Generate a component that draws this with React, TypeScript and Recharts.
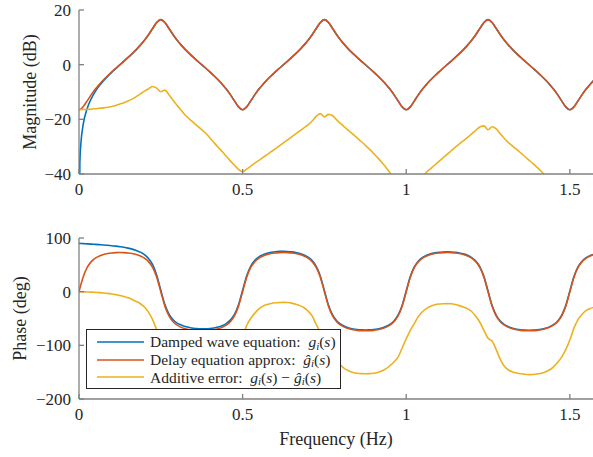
import { Legend, Line, LineChart, XAxis, YAxis } from 'recharts';

const FONT = '"Liberation Serif", "Times New Roman", serif';
const AXIS_COLOR = '#808080';
const TEXT_COLOR = '#262626';
const COLORS = { wave: '#0072BD', delay: '#D95319', err: '#EDB120' };

const X_MAX = Math.PI / 2;
const xTicks = [0, 0.5, 1, 1.5];
const magTicks = [-40, -20, 0, 20];
const phaseTicks = [-200, -100, 0, 100];

// frequency grid (Hz)
const freq = [
  0, 0.0025, 0.00625,
  0.0125, 0.025, 0.0375, 0.05, 0.0625, 0.075, 0.0875, 0.1,
  0.1125, 0.125, 0.1375, 0.15, 0.1625, 0.175, 0.1875, 0.2,
  0.2125, 0.225, 0.2375, 0.25, 0.2625, 0.275, 0.2875, 0.3,
  0.3125, 0.325, 0.3375, 0.35, 0.3625, 0.375, 0.3875, 0.4,
  0.4125, 0.425, 0.4375, 0.45, 0.4625, 0.475, 0.4875, 0.5,
  0.5125, 0.525, 0.5375, 0.55, 0.5625, 0.575, 0.5875, 0.6,
  0.6125, 0.625, 0.6375, 0.65, 0.6625, 0.675, 0.6875, 0.7,
  0.7125, 0.725, 0.7375, 0.75, 0.7625, 0.775, 0.7875, 0.8,
  0.8125, 0.825, 0.8375, 0.85, 0.8625, 0.875, 0.8875, 0.9,
  0.9125, 0.925, 0.9375, 0.95, 0.9625, 0.975, 0.9875, 1.0,
  1.0125, 1.025, 1.0375, 1.05, 1.0625, 1.075, 1.0875, 1.1,
  1.1125, 1.125, 1.1375, 1.15, 1.1625, 1.175, 1.1875, 1.2,
  1.2125, 1.225, 1.2375, 1.25, 1.2625, 1.275, 1.2875, 1.3,
  1.3125, 1.325, 1.3375, 1.35, 1.3625, 1.375, 1.3875, 1.4,
  1.4125, 1.425, 1.4375, 1.45, 1.4625, 1.475, 1.4875, 1.5,
  1.5125, 1.525, 1.5375, 1.55, 1.5625, 1.575,
];

// magnitude (dB)
const magWave = [
  -120, -36.08, -28.12,
  -22.08, -16.01, -12.4, -9.77, -7.67, -5.87, -4.27, -2.8,
  -1.42, -0.07, 1.28, 2.65, 4.04, 5.52, 7.14, 8.94,
  10.97, 13.23, 15.43, 16.48, 15.43, 13.23, 10.97, 8.94,
  7.14, 5.52, 4.04, 2.64, 1.31, 0, -1.31, -2.64,
  -4.04, -5.52, -7.14, -8.94, -10.97, -13.23, -15.43, -16.48,
  -15.43, -13.23, -10.97, -8.94, -7.14, -5.52, -4.04, -2.64,
  -1.31, 0, 1.31, 2.64, 4.04, 5.52, 7.14, 8.94,
  10.97, 13.23, 15.43, 16.48, 15.43, 13.23, 10.97, 8.94,
  7.14, 5.52, 4.04, 2.64, 1.31, 0, -1.31, -2.64,
  -4.04, -5.52, -7.14, -8.94, -10.97, -13.23, -15.43, -16.48,
  -15.43, -13.23, -10.97, -8.94, -7.14, -5.52, -4.04, -2.64,
  -1.31, 0, 1.31, 2.64, 4.04, 5.52, 7.14, 8.94,
  10.97, 13.23, 15.43, 16.48, 15.43, 13.23, 10.97, 8.94,
  7.14, 5.52, 4.04, 2.64, 1.31, 0, -1.31, -2.64,
  -4.04, -5.52, -7.14, -8.94, -10.97, -13.23, -15.43, -16.48,
  -15.43, -13.23, -10.97, -8.94, -7.14, -5.52,
];

const magDelay = [
  -16.48, -16.43, -16.19,
  -15.43, -13.23, -10.97, -8.94, -7.14, -5.52, -4.04, -2.64,
  -1.31, 0, 1.31, 2.64, 4.04, 5.52, 7.14, 8.94,
  10.97, 13.23, 15.43, 16.48, 15.43, 13.23, 10.97, 8.94,
  7.14, 5.52, 4.04, 2.64, 1.31, 0, -1.31, -2.64,
  -4.04, -5.52, -7.14, -8.94, -10.97, -13.23, -15.43, -16.48,
  -15.43, -13.23, -10.97, -8.94, -7.14, -5.52, -4.04, -2.64,
  -1.31, 0, 1.31, 2.64, 4.04, 5.52, 7.14, 8.94,
  10.97, 13.23, 15.43, 16.48, 15.43, 13.23, 10.97, 8.94,
  7.14, 5.52, 4.04, 2.64, 1.31, 0, -1.31, -2.64,
  -4.04, -5.52, -7.14, -8.94, -10.97, -13.23, -15.43, -16.48,
  -15.43, -13.23, -10.97, -8.94, -7.14, -5.52, -4.04, -2.64,
  -1.31, 0, 1.31, 2.64, 4.04, 5.52, 7.14, 8.94,
  10.97, 13.23, 15.43, 16.48, 15.43, 13.23, 10.97, 8.94,
  7.14, 5.52, 4.04, 2.64, 1.31, 0, -1.31, -2.64,
  -4.04, -5.52, -7.14, -8.94, -10.97, -13.23, -15.43, -16.48,
  -15.43, -13.23, -10.97, -8.94, -7.14, -5.52,
];

const magErr = [
  -16.45, -16.45, -16.43,
  -16.4, -16.35, -16.25, -16.1, -15.95, -15.8, -15.6, -15.3,
  -14.9, -14.4, -13.9, -13.3, -12.6, -11.7, -10.7, -9.7,
  -8.8, -8.0, -8.6, -9.9, -9.3, -11.0, -13.0, -14.9,
  -16.7, -18.5, -19.9, -21.2, -22.5, -23.8, -25.1, -26.8,
  -28.5, -30.2, -31.8, -33.5, -35.2, -36.8, -38.3, -39.2,
  -38.2, -37.1, -36.0, -35.0, -33.9, -32.9, -31.8, -30.8,
  -29.7, -28.6, -27.5, -26.4, -25.3, -24.2, -23.1, -22.0,
  -20.6, -18.9, -17.9, -19.1, -18.2, -18.7, -20.2, -21.6,
  -22.9, -24.2, -25.5, -26.8, -28.1, -29.5, -30.9, -32.4,
  -34.0, -35.7, -37.5, -39.5, -41.6, -43.8, -46, -47,
  -46.5, -45, -43.3, -41.4, -39.3, -38.0, -36.7, -35.4,
  -34.1, -32.8, -31.5, -30.2, -29.0, -27.8, -26.6, -25.3,
  -24.0, -22.8, -22.4, -23.8, -22.7, -23.5, -25.3, -27.0,
  -28.5, -29.8, -31.0, -32.3, -33.6, -34.9, -36.2, -37.6,
  -39.0, -40.6, -42.3, -44, -45.5, -47, -48.5, -49.5,
  -48.5, -47, -45.5, -44, -43, -42,
];

// phase (deg)
const phaseWave = [
  90, 89.9, 89.8,
  89.55, 89.09, 88.62, 88.11, 87.58, 87.01, 86.35, 85.63,
  84.78, 83.76, 82.61, 81.15, 79.3, 76.89, 73.61, 68.91,
  61.78, 50.23, 30.81, 2.73, -24.08, -41.74, -52.23, -58.61,
  -62.1, -65.0, -66.9, -68.2, -68.9, -69.3, -69.2, -68.7,
  -67.7, -66.0, -63.4, -59.4, -53.0, -42.3, -24.2, 2.7,
  29.7, 47.8, 58.5, 64.9, 69.0, 71.6, 73.3, 74.4,
  75.0, 75.1, 74.9, 74.2, 73.1, 71.3, 68.5, 64.4,
  57.9, 47.1, 28.9, 1.8, -25.2, -43.4, -54.2, -60.7,
  -64.8, -67.6, -69.4, -70.5, -71.1, -71.4, -71.2, -70.6,
  -69.5, -67.7, -65.1, -61.0, -54.5, -43.8, -25.6, 1.4,
  28.3, 46.5, 57.3, 63.8, 67.9, 70.6, 72.3, 73.4,
  73.9, 74.1, 73.9, 73.3, 72.2, 70.4, 67.7, 63.6,
  57.0, 46.3, 28.1, 1.1, -25.9, -44.1, -54.8, -61.3,
  -65.5, -68.2, -70.0, -71.1, -71.7, -71.9, -71.7, -71.1,
  -70.0, -68.3, -65.6, -61.5, -55.0, -44.2, -26.0, 0.9,
  27.9, 46.1, 56.8, 63.3, 67.4, 70.1,
];

const phaseDelay = [
  0, 5.84, 14.33,
  26.99, 45.18, 55.93, 62.42, 66.52, 69.22, 70.99, 72.11,
  72.72, 72.92, 72.72, 72.11, 70.99, 69.22, 66.52, 62.42,
  55.93, 45.18, 26.99, 0, -26.99, -45.18, -55.93, -62.42,
  -66.52, -69.22, -70.99, -72.11, -72.72, -72.92, -72.72, -72.11,
  -70.99, -69.22, -66.52, -62.42, -55.93, -45.18, -26.99, 0,
  26.99, 45.18, 55.93, 62.42, 66.52, 69.22, 70.99, 72.11,
  72.72, 72.92, 72.72, 72.11, 70.99, 69.22, 66.52, 62.42,
  55.93, 45.18, 26.99, 0, -26.99, -45.18, -55.93, -62.42,
  -66.52, -69.22, -70.99, -72.11, -72.72, -72.92, -72.72, -72.11,
  -70.99, -69.22, -66.52, -62.42, -55.93, -45.18, -26.99, 0,
  26.99, 45.18, 55.93, 62.42, 66.52, 69.22, 70.99, 72.11,
  72.72, 72.92, 72.72, 72.11, 70.99, 69.22, 66.52, 62.42,
  55.93, 45.18, 26.99, 0, -26.99, -45.18, -55.93, -62.42,
  -66.52, -69.22, -70.99, -72.11, -72.72, -72.92, -72.72, -72.11,
  -70.99, -69.22, -66.52, -62.42, -55.93, -45.18, -26.99, 0,
  26.99, 45.18, 55.93, 62.42, 66.52, 69.22,
];

const phaseErr = [
  0, -0.05, -0.15,
  -0.3, -0.6, -0.9, -1.3, -1.8, -2.4, -3.2, -4.2,
  -5.5, -7.0, -9.0, -11.5, -14.5, -18.2, -22.5, -28.5,
  -38.5, -52, -71, -88, -97, -112, -127, -138,
  -145, -149, -151.5, -153, -154, -154.3, -154, -153,
  -151.5, -149, -145, -139.5, -132, -122, -106, -84,
  -63, -50, -40, -32, -27, -24, -22, -20.8,
  -20.1, -19.9, -20.2, -21.3, -23.3, -26, -30, -36,
  -45, -61, -76, -89, -97, -111, -125, -137,
  -144, -148, -150.5, -152, -152.8, -153, -152.8, -152,
  -150.5, -148, -144, -138, -131, -122, -105, -88,
  -72, -59, -46, -37, -31, -27, -24.5, -23,
  -22.4, -22.2, -22.6, -24, -26, -28.6, -32, -37,
  -46, -57, -72, -87, -92, -108, -126, -139,
  -146, -149.5, -151.5, -153, -154, -154.5, -154.3, -153.5,
  -152, -149.5, -146, -140, -132, -122, -108, -90,
  -68, -52, -42, -35, -31.5, -28.5,
];

const data = freq.map((f, i) => ({
  f,
  magWave: magWave[i],
  magDelay: magDelay[i],
  magErr: magErr[i],
  phaseWave: phaseWave[i],
  phaseDelay: phaseDelay[i],
  phaseErr: phaseErr[i],
}));

const fmtTick = (v: number) => (v < 0 ? `\u2212${Math.abs(v)}` : `${v}`);

const tickStyle = { fill: TEXT_COLOR, fontSize: 17, fontFamily: FONT };
const axisLine = { stroke: AXIS_COLOR, strokeWidth: 1.3 };

function YTitle({ viewBox, text, tx }: any) {
  const cy = viewBox ? viewBox.y + viewBox.height / 2 : 0;
  return (
    <text
      x={tx}
      y={cy}
      transform={`rotate(-90 ${tx} ${cy})`}
      textAnchor="middle"
      dominantBaseline="central"
      fontFamily={FONT}
      fontSize={18}
      fill={TEXT_COLOR}
    >
      {text}
    </text>
  );
}

function XTitle({ viewBox, text, ty }: any) {
  const cx = viewBox ? viewBox.x + viewBox.width / 2 : 0;
  const cy = viewBox ? viewBox.y + ty : 0;
  return (
    <text x={cx} y={cy} textAnchor="middle" dominantBaseline="central" fontFamily={FONT} fontSize={18} fill={TEXT_COLOR}>
      {text}
    </text>
  );
}

const sub = {
  display: 'inline-block',
  fontSize: '0.7em',
  fontStyle: 'italic' as const,
  lineHeight: '0.8em',
  height: '0.8em',
  verticalAlign: '-0.2em',
};

function gi(hat: boolean) {
  return (
    <>
      <i>{hat ? '\u011D' : 'g'}</i>
      <span style={sub}>i</span>(<i>s</i>)
    </>
  );
}

// legend rows in the same order as the series
const legendItems = [
  { key: 'phaseWave', color: COLORS.wave, label: <>Damped wave equation:&nbsp; {gi(false)}</> },
  { key: 'phaseDelay', color: COLORS.delay, label: <>Delay equation approx:&nbsp; {gi(true)}</> },
  { key: 'phaseErr', color: COLORS.err, label: <>Additive error:&nbsp; {gi(false)} &minus; {gi(true)}</> },
];

function LegendBox() {
  return (
    <div
      style={{
        boxSizing: 'border-box',
        width: 255,
        height: 60,
        padding: '3px 0 3px 10px',
        background: '#fff',
        border: `1px solid ${TEXT_COLOR}`,
        fontFamily: FONT,
        fontSize: 15.5,
        color: TEXT_COLOR,
      }}
    >
      {legendItems.map((item) => (
        <div key={item.key} style={{ display: 'flex', alignItems: 'center', height: 17.8, lineHeight: '17px', whiteSpace: 'nowrap' }}>
          <svg width={47} height={6} style={{ marginRight: 6, flex: 'none' }}>
            <line x1={0} y1={3} x2={47} y2={3} stroke={item.color} strokeWidth={1.7} />
          </svg>
          <span>{item.label}</span>
        </div>
      ))}
    </div>
  );
}

function series(key: string, color: string, name: string) {
  return (
    <Line
      key={key}
      type="monotone"
      dataKey={key}
      name={name}
      stroke={color}
      strokeWidth={1.6}
      dot={false}
      activeDot={false}
      isAnimationActive={false}
    />
  );
}

export default function App() {
  return (
    <div style={{ position: 'absolute', left: 0, top: 0, width: 593, height: 457, overflow: 'hidden', background: '#fff' }}>
      <div style={{ position: 'absolute', left: 0, top: 0 }}>
        <LineChart width={593} height={215} data={data} margin={{ top: 10, right: 0, bottom: 0, left: 0 }}>
          <XAxis
            dataKey="f"
            type="number"
            domain={[0, X_MAX]}
            ticks={xTicks}
            allowDataOverflow
            height={41}
            tickSize={-5}
            tickMargin={14}
            tick={tickStyle}
            axisLine={axisLine}
            tickLine={axisLine}
          />
          <XAxis
            xAxisId="top"
            orientation="top"
            dataKey="f"
            type="number"
            domain={[0, X_MAX]}
            ticks={xTicks}
            allowDataOverflow
            height={0}
            tickSize={-5}
            tick={false}
            axisLine={axisLine}
            tickLine={axisLine}
          />
          <YAxis
            type="number"
            domain={[-40, 20]}
            ticks={magTicks}
            allowDataOverflow
            width={79}
            tickSize={-5}
            tickMargin={13}
            tick={tickStyle}
            tickFormatter={fmtTick}
            axisLine={axisLine}
            tickLine={axisLine}
            label={<YTitle text="Magnitude (dB)" tx={29.5} />}
          />
          {series('magWave', COLORS.wave, 'Damped wave equation')}
          {series('magDelay', COLORS.delay, 'Delay equation approx')}
          {series('magErr', COLORS.err, 'Additive error')}
        </LineChart>
      </div>
      <div style={{ position: 'absolute', left: 0, top: 228 }}>
        <LineChart width={593} height={229} data={data} margin={{ top: 10, right: 0, bottom: 0, left: 0 }}>
          <XAxis
            dataKey="f"
            type="number"
            domain={[0, X_MAX]}
            ticks={xTicks}
            allowDataOverflow
            height={58}
            tickSize={-5}
            tickMargin={14}
            tick={tickStyle}
            axisLine={axisLine}
            tickLine={axisLine}
            label={<XTitle text="Frequency (Hz)" ty={40} />}
          />
          <XAxis
            xAxisId="top"
            orientation="top"
            dataKey="f"
            type="number"
            domain={[0, X_MAX]}
            ticks={xTicks}
            allowDataOverflow
            height={0}
            tickSize={-5}
            tick={false}
            axisLine={axisLine}
            tickLine={axisLine}
          />
          <YAxis
            type="number"
            domain={[-200, 100]}
            ticks={phaseTicks}
            allowDataOverflow
            width={79}
            tickSize={-5}
            tickMargin={13}
            tick={tickStyle}
            tickFormatter={fmtTick}
            axisLine={axisLine}
            tickLine={axisLine}
            label={<YTitle text="Phase (deg)" tx={19.5} />}
          />
          {series('phaseWave', COLORS.wave, 'Damped wave equation')}
          {series('phaseDelay', COLORS.delay, 'Delay equation approx')}
          {series('phaseErr', COLORS.err, 'Additive error')}
          <Legend
            layout="horizontal"
            verticalAlign="middle"
            align="center"
            content={() => <LegendBox />}
            wrapperStyle={{ left: 86, top: 101, width: 255, height: 60 }}
          />
        </LineChart>
      </div>
    </div>
  );
}
